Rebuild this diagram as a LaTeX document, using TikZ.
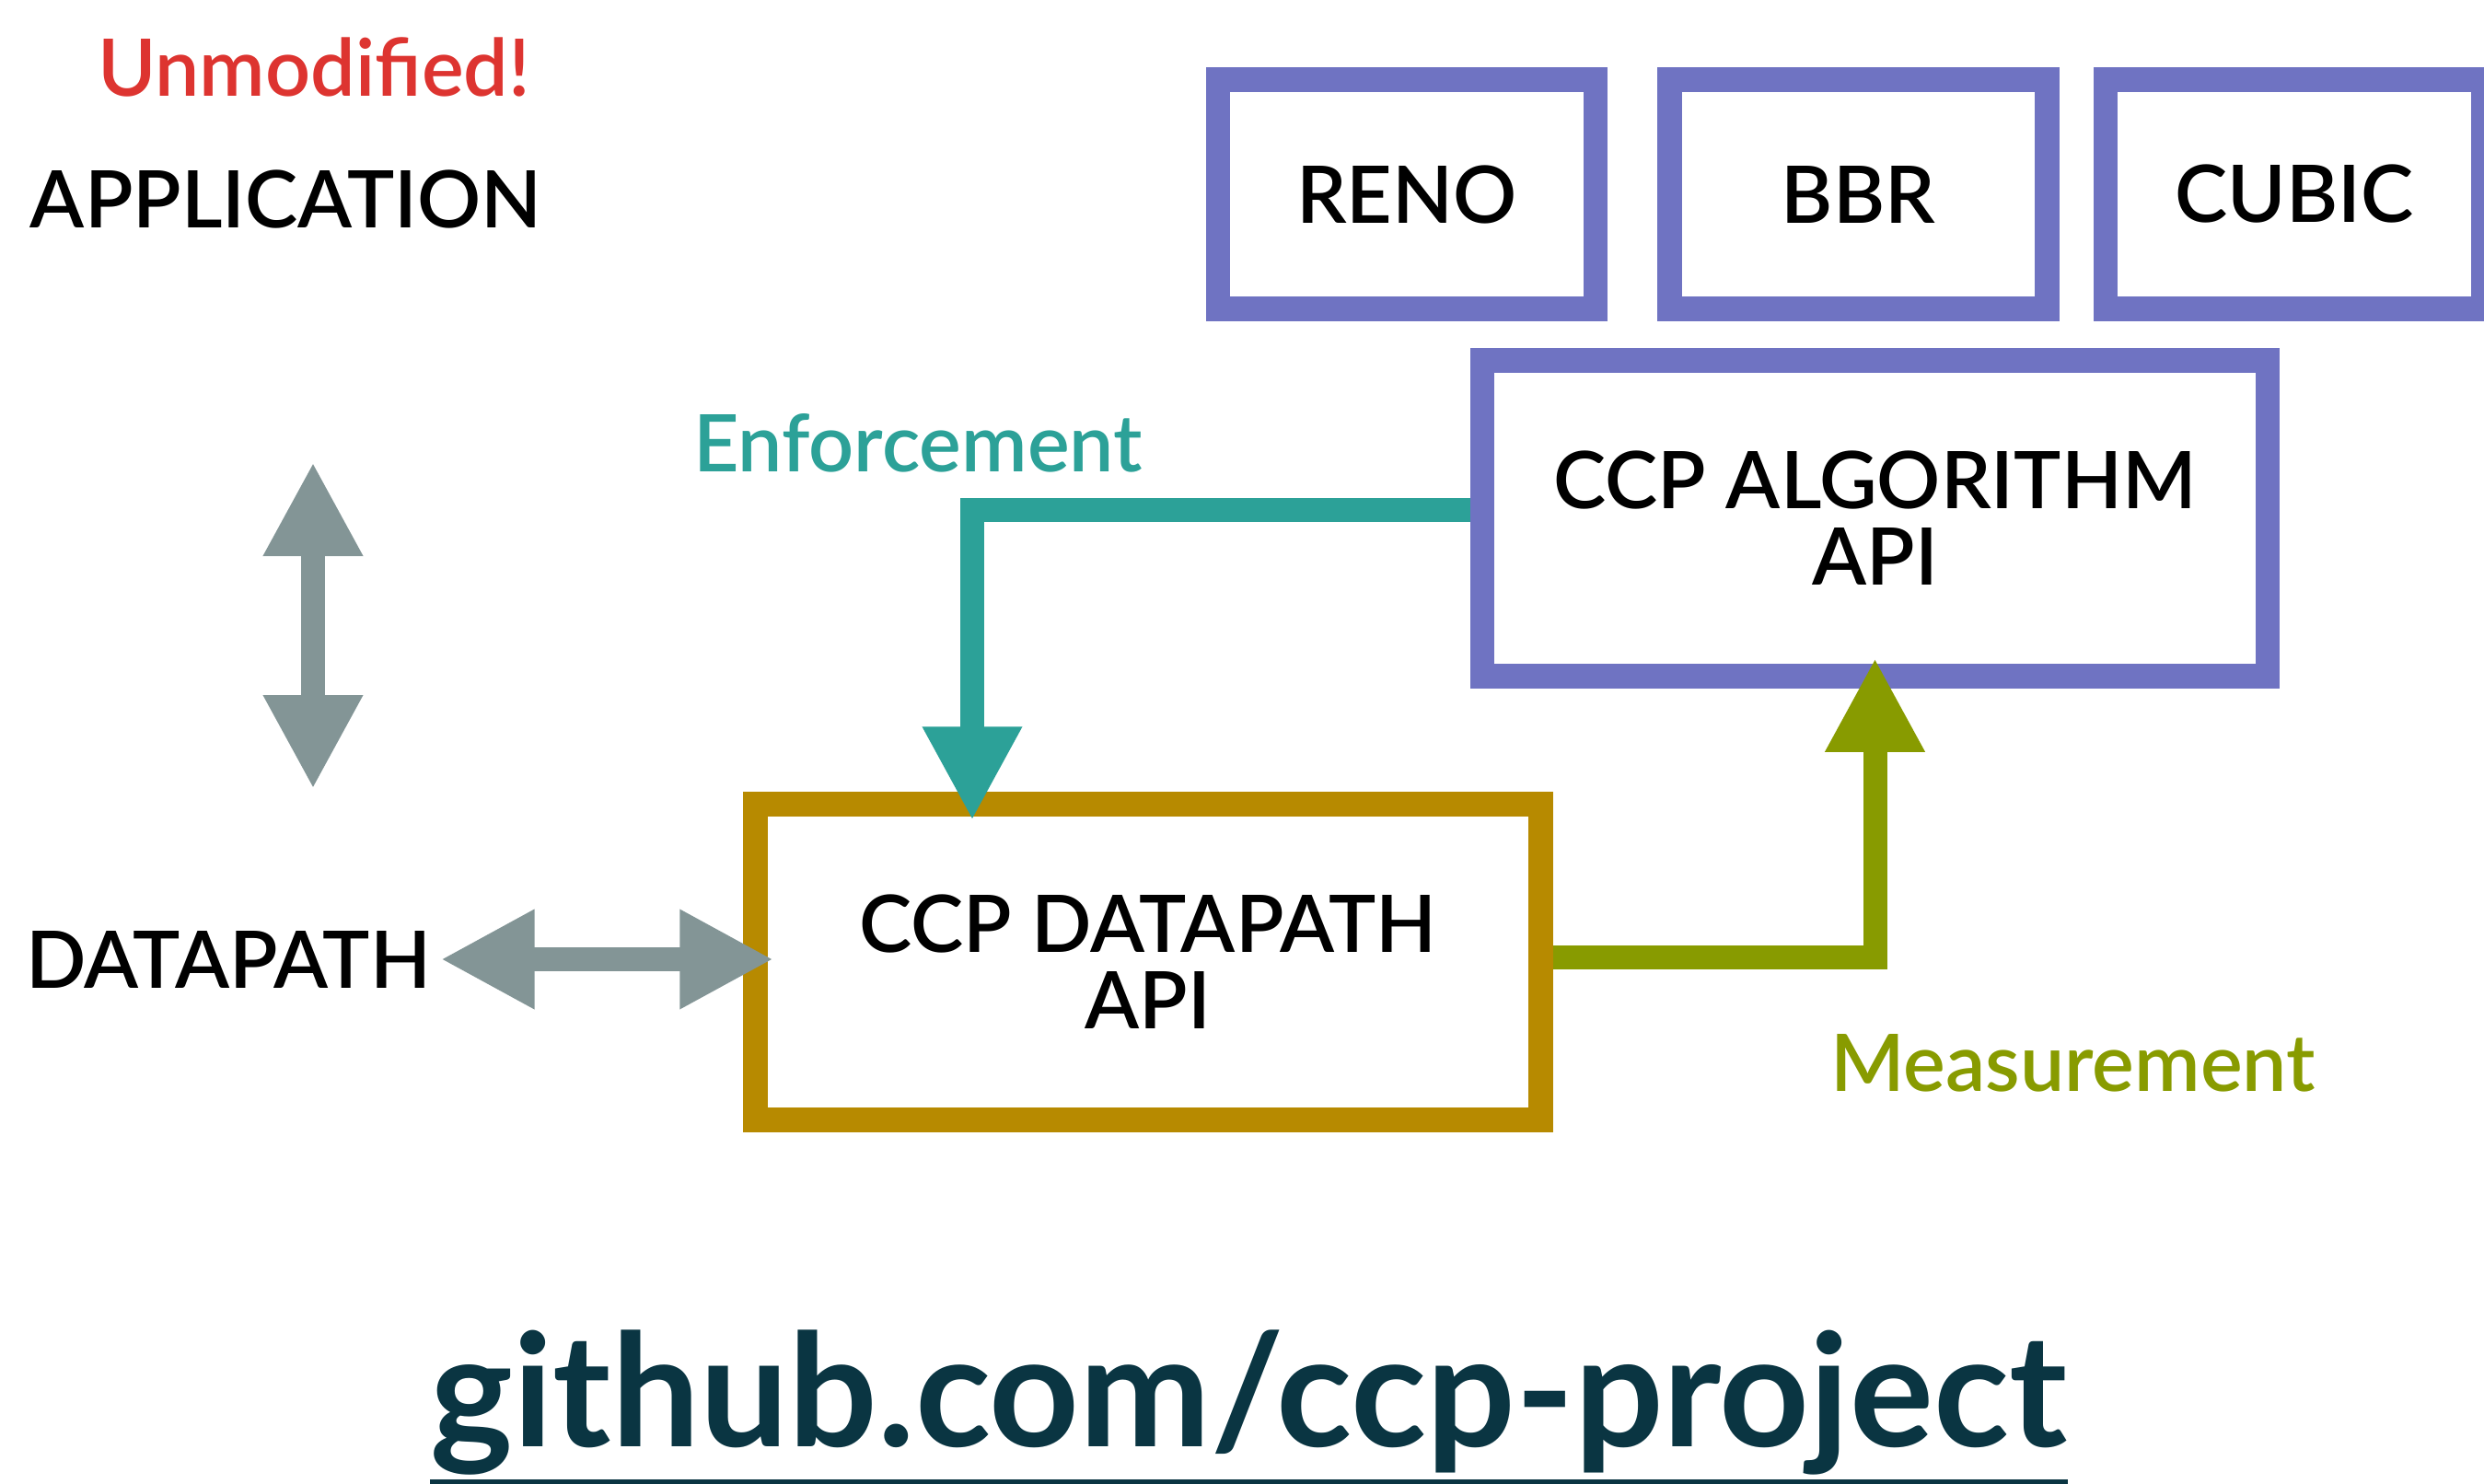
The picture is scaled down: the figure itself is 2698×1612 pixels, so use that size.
\documentclass[tikz,border=0pt]{standalone}
\usepackage{fontspec}
\setmainfont{Lato}
\newfontfamily\labelfont{Lato Semibold}
\usetikzlibrary{arrows.meta, positioning}

\definecolor{algblue}{RGB}{111,115,194}
\definecolor{dpgold}{RGB}{183,138,0}
\definecolor{enfteal}{RGB}{44,161,152}
\definecolor{measgreen}{RGB}{136,155,0}
\definecolor{arrgrey}{RGB}{131,149,150}
\definecolor{unmodred}{RGB}{221,52,48}
\definecolor{ghdark}{RGB}{10,53,66}

\newcommand{\boxfont}{\labelfont\fontsize{24.5}{23.6}\selectfont}
\newcommand{\ghfont}{\bfseries\fontsize{48.5}{58}\selectfont}

\begin{document}
\begin{tikzpicture}[x=0.1mm, y=-0.1mm]
    \tikzset{
        ccabox/.style = {rectangle, draw=algblue, line width=2.65mm, minimum width=41mm, minimum height=24.9mm, font=\boxfont},
        apibox/.style = {rectangle, line width=2.65mm, minimum width=85.3mm, minimum height=34.3mm, align=center, font=\boxfont},
        sidetext/.style = {anchor=base, inner sep=0pt, font=\boxfont},
        ghtext/.style = {anchor=base, inner sep=0pt, text=ghdark, font=\ghfont},
        enfline/.style = {draw=enfteal, line width=2.6mm, -{Triangle[length=10.2mm, width=10.1mm]}},
        measline/.style = {draw=measgreen, line width=2.6mm, -{Triangle[length=10.2mm, width=10.1mm]}},
        garrow/.style = {draw=arrgrey, line width=2.6mm, >={Triangle[length=10.2mm, width=10.1mm]}, <->},
    }
    \useasboundingbox (0,0) rectangle (2698,1612);

    \node[sidetext, text=unmodred](unmod) at (341,105){Unmodified!};
    \node[sidetext](app) at (310.5,247){APPLICATION};
    \node[sidetext](dplabel) at (248,1073){DATAPATH};

    \node[ccabox](reno) at (1528,211){RENO};
    \node[ccabox](bbr)[right = 5.4mm of reno]{BBR};
    \node[ccabox](cubic)[right = 3.7mm of bbr]{CUBIC};

    \node[apibox, draw=algblue](alg) at (2036.5,563){CCP ALGORITHM\\API};
    \node[apibox, draw=dpgold](dp) at (1247,1045){CCP DATAPATH\\API};

    \node[sidetext, text=enfteal](enf) at (997,512.6){Enforcement};
    \node[sidetext, text=measgreen](meas) at (2251.5,1185){Measurement};

    \node[ghtext](gh) at (1356.5,1571.7){github.com/ccp-project};
    \draw[draw=ghdark, line width=0.6mm] ([yshift=-0.7mm]gh.south west) -- ([yshift=-0.7mm]gh.south east);

    \coordinate (appgap) at (340,502);
    \coordinate (dpgap) at (340,857);

    \path [garrow] (appgap) -- (dpgap);
    \path [garrow] ([xshift=1mm]dplabel.east) -- ([xshift=3.3mm]dp.west |- dplabel.east);
    \path [enfline] ([yshift=0.9mm]alg.west) -| ([xshift=-19.1mm, yshift=-3.1mm]dp.north);
    \path [measline] ([yshift=0.5mm]dp.east) -| ([yshift=3.3mm]alg.south);

\end{tikzpicture}
\end{document}
